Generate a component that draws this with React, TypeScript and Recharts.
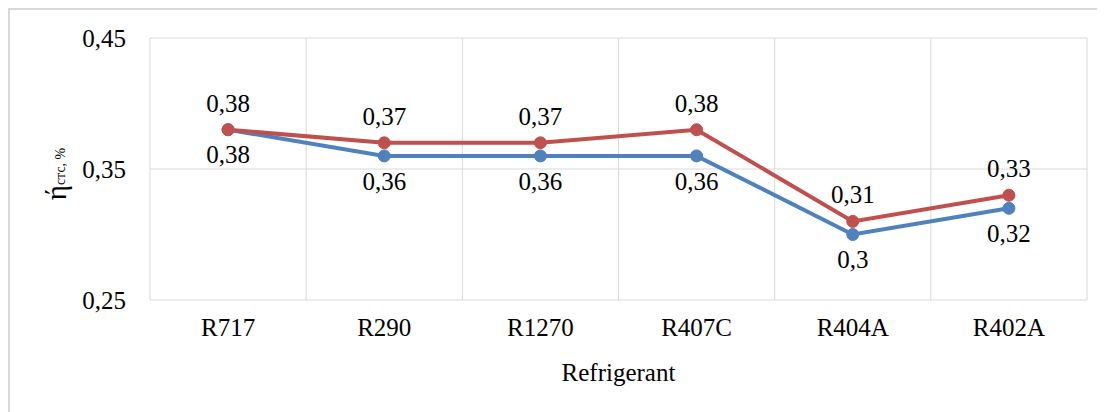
import {
  LineChart,
  Line,
  XAxis,
  YAxis,
  CartesianGrid,
  LabelList,
} from "recharts";

const refrigerants = ["R717", "R290", "R1270", "R407C", "R404A", "R402A"];
const blueValues = [0.38, 0.36, 0.36, 0.36, 0.3, 0.32];
const redValues = [0.38, 0.37, 0.37, 0.38, 0.31, 0.33];
const yTicks = [0.25, 0.35, 0.45];

const data = refrigerants.map((name, i) => ({
  name,
  blue: blueValues[i],
  red: redValues[i],
}));

const FONT = "'Liberation Serif', 'Times New Roman', serif";
const comma = (v: number) => String(v).replace(".", ",");
const textStyle = { fontSize: 25, fill: "#000", fontFamily: FONT };

export default function App() {
  return (
    <div
      style={{
        width: 1100,
        height: 410,
        borderTop: "2px solid #d9d9d9",
        borderLeft: "2px solid #d9d9d9",
        background: "#fff",
        fontFamily: FONT,
      }}
    >
      <LineChart
        width={1090}
        height={400}
        data={data}
        margin={{ top: 28, right: 13, bottom: 20, left: 0 }}
      >
        <CartesianGrid
          stroke="#d9d9d9"
          strokeWidth={1}
          verticalCoordinatesGenerator={({ offset }: any) =>
            refrigerants
              .map((_, i) => offset.left + (offset.width * i) / refrigerants.length)
              .concat(offset.left + offset.width)
          }
        />
        <XAxis
          dataKey="name"
          scale="band"
          axisLine={false}
          tickLine={false}
          tickSize={0}
          tickMargin={18}
          tick={textStyle}
          height={90}
          label={{
            value: "Refrigerant",
            position: "insideBottom",
            offset: 9,
            style: textStyle,
          }}
        />
        <YAxis
          domain={[0.25, 0.45]}
          ticks={yTicks}
          width={140}
          axisLine={false}
          tickLine={false}
          tickSize={0}
          tickMargin={24}
          tickFormatter={comma}
          tick={textStyle}
          label={
            <text
              x={62}
              y={172}
              transform="rotate(-90 62 172)"
              textAnchor="middle"
              dominantBaseline="middle"
              fill="#000"
              fontFamily={FONT}
            >
              <tspan fontSize={29}>ή</tspan>
              <tspan fontSize={14} dy={3}>стс, %</tspan>
            </text>
          }
        />
        <Line
          dataKey="blue"
          stroke="#4f81bd"
          strokeWidth={4}
          dot={{ r: 6, fill: "#4f81bd", stroke: "#4f81bd", strokeWidth: 1 }}
          isAnimationActive={false}
        >
          <LabelList
            dataKey="blue"
            position="bottom"
            offset={16}
            formatter={(v: any) => comma(Number(v))}
            style={textStyle}
          />
        </Line>
        <Line
          dataKey="red"
          stroke="#c0504d"
          strokeWidth={4}
          dot={{ r: 6, fill: "#c0504d", stroke: "#c0504d", strokeWidth: 1 }}
          isAnimationActive={false}
        >
          <LabelList
            dataKey="red"
            position="top"
            offset={18}
            formatter={(v: any) => comma(Number(v))}
            style={textStyle}
          />
        </Line>
      </LineChart>
    </div>
  );
}
